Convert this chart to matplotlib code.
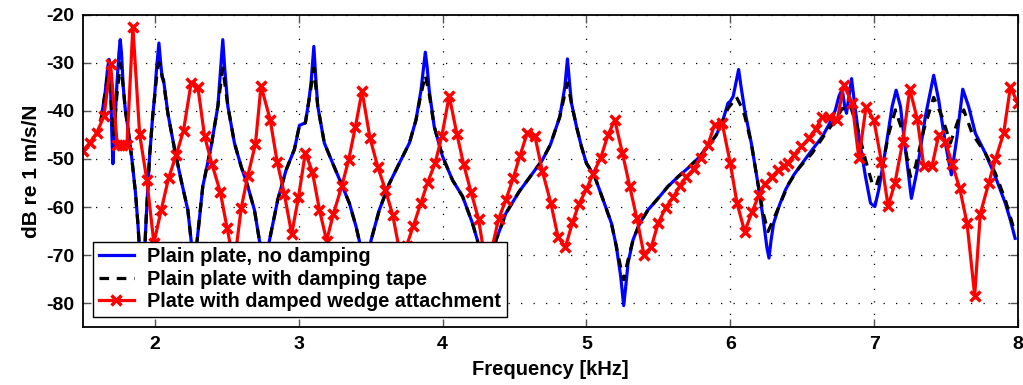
import matplotlib
matplotlib.use('Agg')
import matplotlib.pyplot as plt

# Blue: plain plate, no damping (kHz, dB)
blue_f = [1.625, 1.655, 1.672, 1.681, 1.690, 1.700, 1.708, 1.718, 1.735, 1.750, 1.759, 1.768,
          1.780, 1.795, 1.8125, 1.84, 1.865, 1.882, 1.90, 1.92, 1.94, 1.963, 1.985, 1.998,
          2.012, 2.028, 2.040, 2.050, 2.060, 2.075, 2.090, 2.137, 2.183, 2.229, 2.252, 2.27,
          2.29, 2.333, 2.391, 2.438, 2.458, 2.472, 2.485, 2.507, 2.553, 2.600, 2.646, 2.692,
          2.727, 2.76, 2.796, 2.854, 2.912, 2.970, 3.005, 3.03, 3.046, 3.07, 3.086, 3.105,
          3.118, 3.132, 3.178, 3.236, 3.294, 3.352, 3.398, 3.421, 3.46, 3.502, 3.560, 3.630,
          3.699, 3.769, 3.815, 3.850, 3.868, 3.880, 3.893, 3.907, 3.942, 4.000, 4.069, 4.139,
          4.208, 4.243, 4.29, 4.37, 4.440, 4.532, 4.625, 4.694, 4.75, 4.815, 4.850, 4.868,
          4.882, 4.896, 4.931, 4.965, 5.0, 5.058, 5.116, 5.174, 5.208, 5.238, 5.259, 5.275,
          5.289, 5.324, 5.370, 5.428, 5.498, 5.567, 5.637, 5.706, 5.775, 5.845, 5.903, 5.949,
          5.984, 6.0, 6.02, 6.04, 6.058, 6.075, 6.100, 6.146, 6.192, 6.227, 6.255, 6.269,
          6.283, 6.301, 6.343, 6.384, 6.442, 6.5, 6.569, 6.639, 6.685, 6.731, 6.755, 6.778,
          6.795, 6.808, 6.825, 6.843, 6.862, 6.894, 6.940, 6.975, 7.005, 7.032, 7.079, 7.125,
          7.153, 7.183, 7.218, 7.259, 7.299, 7.356, 7.414, 7.449, 7.495, 7.537, 7.576, 7.616,
          7.657, 7.704, 7.773, 7.843, 7.912, 7.947, 7.98]
blue_db = [-42, -36, -31, -29.3, -33, -44, -51, -45, -35, -28, -25.2, -28,
           -35, -40, -43.5, -50, -57, -63.5, -72, -75, -62, -49.5, -41, -37,
           -31, -25.9, -30, -33, -33.5, -37, -40.5, -48, -54.5, -60.6, -67, -75,
           -68, -55.7, -47.4, -39, -31, -25.2, -31, -39, -46.7, -51.6, -55.7, -60.6,
           -67, -76, -67, -58.5, -52.3, -48, -43, -42.7, -42.5, -38, -34, -26.6,
           -33, -39, -46.7, -50.9, -55, -59.2, -64, -67, -76, -67, -60.6, -55.1,
           -50.9, -46.7, -41.9, -35.7, -31, -27.8, -31, -35.7, -43.3, -49.5, -54.4, -57.8,
           -63.4, -67, -76, -67, -61.3, -56.8, -53, -50.2, -47, -41.2, -35, -29.2,
           -34, -38.4, -43.3, -47.4, -50.9, -53.7, -58.5, -63.4, -68.2, -74.4, -80.5, -76,
           -71.7, -66.8, -63.4, -60.6, -58.2, -55.7, -53.7, -51.9, -49.9, -47.4, -45, -41.9,
           -38.4, -38, -37, -34, -31.4, -35, -39.8, -46.7, -55.1, -62, -68.5, -70.6,
           -67, -63.4, -59.5, -56.4, -53.3, -50.9, -48.1, -45.4, -42.9, -39.8, -37, -35.5,
           -39, -40.5, -37, -33.3, -38, -45.4, -53.7, -59.2, -59.9, -56.4, -48.1, -39.1,
           -35.7, -39.1, -48.1, -58.2, -52.3, -41.2, -32.6, -37.8, -46.7, -53.3, -45.4, -35.5,
           -39.1, -44.7, -48.8, -53.7, -59.2, -62.7, -66.5]

# Black dashed: plain plate with damping tape
black_f = [1.625, 1.655, 1.68, 1.70, 1.715, 1.735, 1.76, 1.78, 1.795, 1.8125, 1.84, 1.865,
           1.882, 1.90, 1.92, 1.94, 1.963, 1.985, 1.998, 2.015, 2.028, 2.045, 2.060, 2.090,
           2.137, 2.183, 2.229, 2.252, 2.27, 2.29, 2.333, 2.391, 2.438, 2.472, 2.507, 2.553,
           2.600, 2.646, 2.692, 2.727, 2.76, 2.796, 2.854, 2.912, 2.970, 3.005, 3.046, 3.086,
           3.105, 3.132, 3.178, 3.236, 3.294, 3.352, 3.398, 3.421, 3.46, 3.502, 3.560, 3.630,
           3.699, 3.769, 3.815, 3.850, 3.880, 3.907, 3.942, 4.000, 4.069, 4.139, 4.208, 4.243,
           4.29, 4.37, 4.440, 4.532, 4.625, 4.694, 4.75, 4.815, 4.850, 4.868, 4.896, 4.931,
           4.965, 5.0, 5.058, 5.116, 5.174, 5.208, 5.238, 5.259, 5.289, 5.324, 5.370, 5.428,
           5.498, 5.567, 5.637, 5.706, 5.775, 5.845, 5.903, 5.949, 5.984, 6.01, 6.042, 6.075,
           6.100, 6.146, 6.192, 6.227, 6.262, 6.301, 6.338, 6.407, 6.477, 6.569, 6.662, 6.731,
           6.778, 6.813, 6.836, 6.882, 6.940, 6.986, 7.014, 7.056, 7.102, 7.148, 7.194, 7.252,
           7.287, 7.345, 7.414, 7.472, 7.530, 7.588, 7.623, 7.681, 7.773, 7.843, 7.912, 7.97]
black_db = [-42, -36, -31, -40, -45, -37, -30.1, -35, -40, -43.5, -50, -57,
            -63.5, -72, -75, -62, -49.5, -41, -37, -32, -30, -32, -34, -40.5,
            -48, -54.5, -60.6, -67, -75, -68, -55.7, -47.4, -39, -31.1, -39, -46.7,
            -51.6, -55.7, -60.6, -67, -76, -67, -58.5, -52.3, -48, -43, -42.5, -35,
            -31.1, -39, -46.7, -50.9, -55, -59.2, -64, -67, -76, -67, -60.6, -55.1,
            -50.9, -46.7, -41.9, -36.5, -32.6, -36.5, -43.3, -49.5, -54.4, -57.8, -63.4, -67,
            -76, -67, -61.3, -56.8, -53, -50.2, -47, -41.2, -36.5, -34.2, -38.4, -43.3,
            -47.4, -50.9, -53.7, -58.5, -63.4, -68.2, -72.5, -75.1, -71, -66.8, -63.4, -60.6,
            -58.2, -55.7, -53.7, -51.9, -49.9, -47.4, -45, -41.9, -39.5, -38.5, -37.1, -39,
            -41, -46.7, -55.1, -61, -65.1, -62.5, -59.9, -55.1, -51.9, -48.8, -44.7, -41.9,
            -39.5, -39.8, -39.1, -43.3, -50.2, -55.1, -55.7, -51.6, -44.7, -39.8, -44.0, -53.7,
            -51.6, -44.0, -37.2, -41.2, -46.7, -41.6, -39.8, -44.7, -48.8, -53.0, -58.5, -64.4]

# Red with markers: plate with damped wedge attachment
red_f = [1.50, 1.546, 1.597, 1.646, 1.692, 1.738, 1.773, 1.806, 1.847, 1.894, 1.944, 1.993,
         2.044, 2.095, 2.148, 2.199, 2.252, 2.299, 2.345, 2.396, 2.454, 2.502, 2.551, 2.600,
         2.646, 2.699, 2.738, 2.801, 2.850, 2.900, 2.951, 2.998, 3.046, 3.095, 3.144, 3.194,
         3.241, 3.299, 3.347, 3.394, 3.440, 3.495, 3.549, 3.602, 3.653, 3.70, 3.75, 3.796,
         3.850, 3.896, 3.949, 3.995, 4.046, 4.100, 4.146, 4.197, 4.250, 4.295, 4.34, 4.389,
         4.440, 4.491, 4.537, 4.590, 4.641, 4.694, 4.752, 4.803, 4.854, 4.903, 4.949, 5.000,
         5.046, 5.100, 5.150, 5.197, 5.250, 5.301, 5.350, 5.400, 5.451, 5.498, 5.551, 5.602,
         5.648, 5.694, 5.745, 5.794, 5.845, 5.891, 5.944, 6.000, 6.046, 6.100, 6.150, 6.199,
         6.238, 6.289, 6.331, 6.37, 6.40, 6.442, 6.495, 6.546, 6.593, 6.639, 6.685, 6.743,
         6.789, 6.847, 6.894, 6.944, 6.998, 7.051, 7.097, 7.144, 7.199, 7.248, 7.299, 7.345,
         7.403, 7.449, 7.495, 7.542, 7.595, 7.646, 7.699, 7.738, 7.796, 7.843, 7.900, 7.947,
         7.999]
red_db = [-48.3, -46.7, -44.5, -41.1, -30.3, -47.0, -47.0, -47.0, -22.5, -44.9, -54.4, -67.5,
          -60.6, -54.0, -49.2, -44.1, -34.2, -35.1, -45.2, -51.0, -56.8, -64.4, -72, -60.2,
          -53.5, -46.9, -34.8, -41.8, -50.6, -57.3, -65.6, -58.0, -48.7, -52.7, -60.6, -67,
          -61.4, -55.7, -50.2, -43.3, -35.9, -45.6, -51.6, -56.4, -61.6, -69, -68, -64.0,
          -59.1, -54.9, -50.8, -45.2, -36.9, -44.9, -51.1, -56.8, -62.5, -71, -69, -62.5,
          -58.5, -54.0, -49.4, -44.5, -45.2, -52.6, -59.1, -66.3, -68.3, -63.2, -59.3, -56.3,
          -53.1, -49.7, -45.0, -41.9, -48.8, -55.7, -62.3, -69.9, -68.3, -63.4, -60.1, -58.0,
          -55.7, -53.7, -52.1, -49.7, -47.0, -42.9, -42.6, -50.9, -59.1, -65.1, -61.1, -57.5,
          -55.3, -53.7, -52.4, -51.5, -50.9, -49.2, -47.4, -45.7, -43.8, -41.3, -41.2, -42.0,
          -34.6, -38.4, -49.9, -39.1, -41.9, -50.6, -59.8, -55.1, -46.4, -35.5, -41.6, -51.4,
          -51.4, -45.0, -46.4, -51.0, -56.1, -63.4, -78.4, -61.4, -55.1, -50.1, -44.7, -35.1,
          -38.4]

xticks = [2, 3, 4, 5, 6, 7, 8]
yticks = [-80, -70, -60, -50, -40, -30, -20]

plt.rcParams['font.family'] = ['Liberation Sans', 'DejaVu Sans']
plt.rcParams['font.weight'] = 'bold'
plt.rcParams['axes.unicode_minus'] = False

fig = plt.figure(figsize=(10.23, 3.85), dpi=100)
ax = fig.add_axes([0.0811, 0.1499, 0.914, 0.812])

ax.plot(blue_f, blue_db, color='#0000ff', lw=2.3, label='Plain plate, no damping')
ax.plot(black_f, black_db, color='black', lw=2.3, linestyle=(0, (3, 2.4)),
        label='Plain plate with damping tape')
ax.plot(red_f, red_db, color='#ff0000', lw=2.3, marker='x', markersize=7.5,
        markeredgewidth=2.5, label='Plate with damped wedge attachment')

ax.set_xlim(1.5, 8)
ax.set_ylim(-85, -20)
ax.set_xticks(xticks)
ax.set_yticks(yticks)
ax.tick_params(direction='in', length=6, width=1, top=True, right=True,
               labelsize=14, color='#555555', pad=6)
for lbl in ax.get_xticklabels() + ax.get_yticklabels():
    lbl.set_fontweight('bold')
for sp in ax.spines.values():
    sp.set_linewidth(1.3)
ax.grid(True, color='black', linestyle=(0, (1, 9)), linewidth=0.9)

ax.set_xlabel('Frequency [kHz]', fontsize=14.5, fontweight='bold', labelpad=5)
ax.set_ylabel('dB re 1 m/s/N', fontsize=15, fontweight='bold', labelpad=4)

leg = ax.legend(loc='lower left', bbox_to_anchor=(0.0107, 0.033), borderaxespad=0,
                prop={'weight': 'bold', 'size': 14.3}, fancybox=False,
                framealpha=1, edgecolor='black', handlelength=1.8, handletextpad=0.65,
                labelspacing=0.18, borderpad=0.28)
leg.get_frame().set_linewidth(1.0)

fig.savefig('out.png', dpi=100)
